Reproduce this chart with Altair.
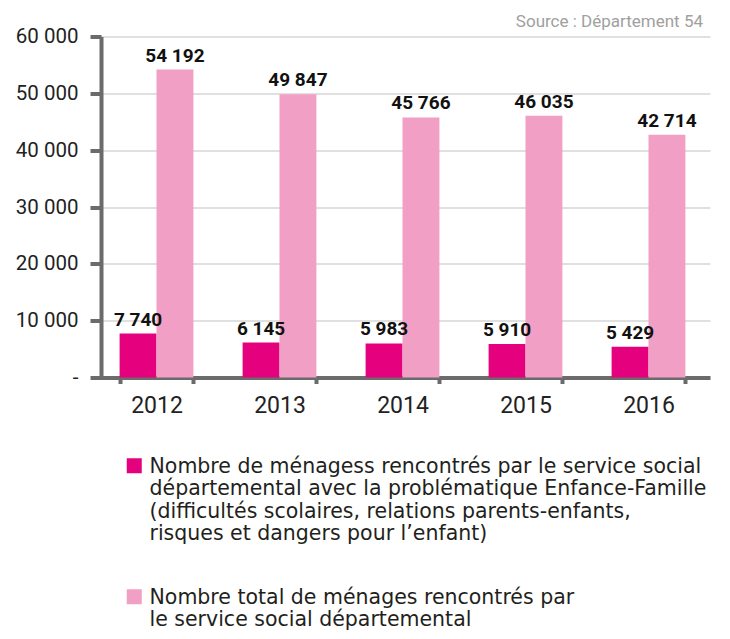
import altair as alt
import pandas as pd

years = ["2012", "2013", "2014", "2015", "2016"]
enfance = [7740, 6145, 5983, 5910, 5429]
total = [54192, 49847, 45766, 46035, 42714]
series_names = [
    "Nombre de ménagess rencontrés par le service social|départemental avec la problématique Enfance-Famille|(difficultés scolaires, relations parents-enfants,|risques et dangers pour l’enfant)",
    "Nombre total de ménages rencontrés par|le service social départemental",
]
source_text = ["Source : Département 54"]
colors = ["#e5007e", "#f29fc5"]

rows = []
for i, y in enumerate(years):
    rows.append({"year": y, "series": series_names[0], "order": 0, "value": enfance[i]})
    rows.append({"year": y, "series": series_names[1], "order": 1, "value": total[i]})
df = pd.DataFrame(rows)

AXC = "#6b6b6b"

x = alt.X("year:N", title=None,
          scale=alt.Scale(paddingInner=0.4, paddingOuter=0.2),
          axis=alt.Axis(labelAngle=0, labelFont="Roboto", labelFontSize=23, labelColor="#222",
                        labelPadding=11, tickBand="extent", tickSize=6, tickWidth=4,
                        tickColor=AXC, domainColor=AXC, domainWidth=4, grid=False))
xoff = alt.XOffset("order:O", scale=alt.Scale(paddingInner=0, paddingOuter=0))
y = alt.Y("value:Q", title=None,
          scale=alt.Scale(domain=[0, 60000], nice=False),
          axis=alt.Axis(values=[0, 10000, 20000, 30000, 40000, 50000, 60000],
                        labelExpr="datum.value == 0 ? '-' : replace(format(datum.value, ',d'), ',', ' ')",
                        labelFont="Roboto", labelFontSize=20.5, labelColor="#222", labelPadding=12,
                        tickSize=11, tickWidth=4, tickColor=AXC, offset=-6,
                        domainColor=AXC, domainWidth=4,
                        grid=True, gridColor="#d6d6d6", gridWidth=1.5))

base = alt.Chart(df).encode(x=x, xOffset=xoff)

bars = base.mark_bar().encode(
    y=y,
    color=alt.Color("series:N", sort=series_names,
                    scale=alt.Scale(domain=series_names, range=colors),
                    legend=alt.Legend(title=None, orient="none", legendX=29, legendY=410,
                                      direction="vertical",
                                      symbolType="M-1,0.2H1V2.2H-1Z", symbolSize=225,
                                      symbolStrokeWidth=0, symbolOpacity=1,
                                      labelExpr="split(datum.label, '|')",
                                      labelFont="DejaVu Sans", labelFontSize=20.5, labelColor="#231f20",
                                      labelLimit=700, labelBaseline="top", labelOffset=5,
                                      rowPadding=32)),
)

labels = base.mark_text(dy=-8, baseline="alphabetic", font="Roboto", fontSize=19,
                        fontWeight="bold", color="#111").encode(
    y=alt.Y("value:Q"),
    text=alt.Text("txt:N"),
).transform_calculate(txt="replace(format(datum.value, ',d'), ',', ' ')")

source = alt.Chart(pd.DataFrame({"t": source_text})).mark_text(
    align="right", baseline="alphabetic", font="Roboto", fontSize=17, color="#a0a0a0"
).encode(text="t:N", x=alt.value(608), y=alt.value(-9.5))

chart = (bars + labels + source).properties(
    width=615, height=341,
    autosize=alt.AutoSizeParams(type="none"),
    padding={"left": 87, "top": 28.5, "right": 12, "bottom": 253.5},
).configure_view(stroke=None)

chart.save("out.html", embed_options={"renderer": "svg", "actions": False})
